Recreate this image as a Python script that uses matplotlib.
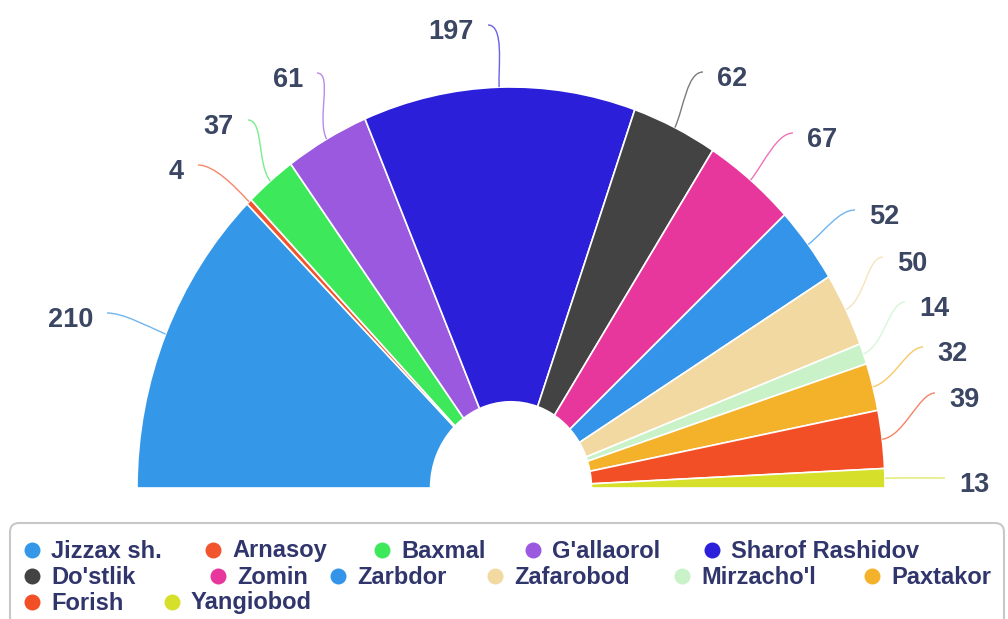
import numpy as np
import matplotlib
matplotlib.use("Agg")
import matplotlib.pyplot as plt
from matplotlib.path import Path
from matplotlib.patches import PathPatch, FancyBboxPatch

# ma'lumotlar
names = ["Jizzax sh.", "Arnasoy", "Baxmal", "G'allaorol", "Sharof Rashidov",
         "Do'stlik", "Zomin", "Zarbdor", "Zafarobod", "Mirzacho'l", "Paxtakor",
         "Forish", "Yangiobod"]
values = [210, 4, 37, 61, 197, 62, 67, 52, 50, 14, 32, 39, 13]
colors = ["#3497e8", "#f2542d", "#3de85a", "#9b59df", "#2b1fd9", "#434343",
          "#e8379c", "#3394ea", "#f2d9a2", "#c9f2c9", "#f4b12a", "#f34f26",
          "#d6e02a"]

# joylashuv (piksel): yorliq chiziqlari boshlanishi
label_start = [(107, 313), (198, 165), (248, 120), (317, 73), (488, 25),
               (703, 72), (793, 133), (855, 210), (883, 257), (905, 302),
               (923, 347), (935, 393), (945, 478)]
# legend: (marker x, y)
legend_pos = [(32, 550), (213, 550), (382, 550), (533, 550), (712, 550),
              (32, 576), (218, 576), (338, 576), (495, 576), (682, 576), (872, 576),
              (32, 602), (172, 602)]

W, H = 1008, 619
fig = plt.figure(figsize=(W / 100, H / 100), dpi=100)
fig.patch.set_facecolor("white")

# yarim donut
ax = fig.add_axes([0, 0, 1, 1])
total = sum(values)
wedges, _ = ax.pie(values + [total], colors=colors + ["none"], startangle=180,
                   counterclock=False, radius=1,
                   wedgeprops=dict(width=0.785, edgecolor="white", linewidth=1.2))
wedges[-1].set_visible(False)
ax.set_aspect("auto")
cx_pix, cy_pix, rx, ry = 511, 488, 374, 401
ax.set_xlim(-cx_pix / rx, (W - cx_pix) / rx)
ax.set_ylim(-(H - cy_pix) / ry, cy_pix / ry)
ax.axis("off")

# ustki qatlam (piksel koordinatalari)
ov = fig.add_axes([0, 0, 1, 1])
ov.set_xlim(0, W)
ov.set_ylim(H, 0)
ov.axis("off")
ov.patch.set_alpha(0)


def to_pix(x, y):
    dx, dy = ax.transData.transform((x, y))
    return dx, H - dy


c0 = np.array(to_pix(0, 0))
label_color = "#3b4663"
for w, v, col, (sx, sy) in zip(wedges[:-1], values, colors, label_start):
    mid = np.deg2rad((w.theta1 + w.theta2) / 2)
    p0 = np.array(to_pix(np.cos(mid), np.sin(mid)))
    d = (p0 - c0) / np.linalg.norm(p0 - c0)
    left = sx < p0[0]
    p1 = p0 + d * 22
    p2 = np.array([sx + (16 if left else -16), sy])
    path = Path([p0, p1, p2, (sx, sy)],
                [Path.MOVETO, Path.CURVE4, Path.CURVE4, Path.CURVE4])
    ov.add_patch(PathPatch(path, fc="none", ec=col, lw=1.0, alpha=0.7))
    ov.text(sx - 14 if left else sx + 14, sy + 7, str(v),
            ha="right" if left else "left", va="center",
            fontsize=19.5, fontweight="bold", color=label_color,
            family=["Liberation Sans Narrow", "Liberation Sans", "DejaVu Sans"])

# legend
box = FancyBboxPatch((10, 523), 994, 120, boxstyle="round,pad=0,rounding_size=9",
                     fc="white", ec="#c8c8c8", lw=1.5)
ov.add_patch(box)
for name, col, (mx, my) in zip(names, colors, legend_pos):
    ov.plot(mx, my, "o", ms=11.5, color=col, mec="none")
    ov.text(mx + 19, my + 1, name, ha="left", va="center", fontsize=17,
            fontweight="bold", color="#30356c",
            family=["Liberation Sans", "DejaVu Sans"])

fig.savefig("out.png", dpi=100)
